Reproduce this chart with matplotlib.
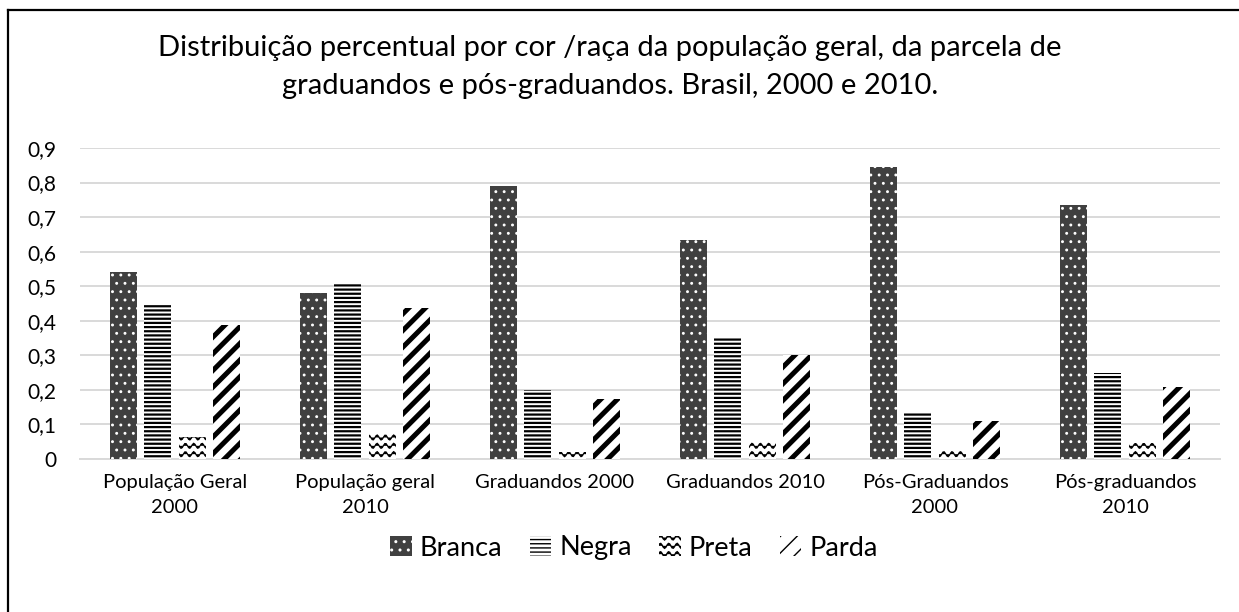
import warnings
warnings.filterwarnings("ignore")
import numpy as np
import matplotlib
matplotlib.use("Agg")
import matplotlib.pyplot as plt
import matplotlib.hatch as mhatch
from matplotlib.path import Path
from matplotlib.lines import Line2D

# ---- data ----
categories = ["População Geral\n2000", "População geral\n2010", "Graduandos 2000",
              "Graduandos 2010", "Pós-Graduandos\n2000", "Pós-graduandos\n2010"]
series_names = ["Branca", "Negra", "Preta", "Parda"]
branca = [0.54, 0.479, 0.789, 0.634, 0.846, 0.736]
negra = [0.446, 0.509, 0.199, 0.354, 0.135, 0.249]
preta = [0.064, 0.076, 0.020, 0.052, 0.024, 0.046]
parda = [0.387, 0.436, 0.174, 0.302, 0.111, 0.208]
yticks = [0, 0.1, 0.2, 0.3, 0.4, 0.5, 0.6, 0.7, 0.8, 0.9]
ytick_labels = ["0", "0,1", "0,2", "0,3", "0,4", "0,5", "0,6", "0,7", "0,8", "0,9"]
title = ("Distribuição percentual por cor /raça da população geral, da parcela de\n"
         "graduandos e pós-graduandos. Brasil, 2000 e 2010.")


# ---- custom wavy hatch ('~') ----
class WaveHatch(mhatch.HatchPatternBase):
    def __init__(self, hatch, density):
        self.num_lines = int(hatch.count('~') * density)
        self.npts = 80
        self.num_vertices = self.num_lines * self.npts

    def set_vertices_and_codes(self, vertices, codes):
        n = self.num_lines
        xs = np.linspace(0, 1, self.npts)
        amp = 0.3 / n
        for i in range(n):
            y0 = (i + 0.5) / n
            ys = y0 + amp * np.sin(2 * np.pi * n * xs)
            vertices[i * self.npts:(i + 1) * self.npts, 0] = xs
            vertices[i * self.npts:(i + 1) * self.npts, 1] = ys
            codes[i * self.npts] = Path.MOVETO
            codes[i * self.npts + 1:(i + 1) * self.npts] = Path.LINETO


mhatch._hatch_types.append(WaveHatch)

plt.rcParams['font.family'] = ['Lato', 'DejaVu Sans']

fig = plt.figure(figsize=(12.39, 6.12), dpi=100)
ax = fig.add_axes([80 / 1239, 1 - 459 / 612, 1140 / 1239, (459 - 148) / 612])

x = np.arange(len(categories))
bw = 0.142
step = 0.18
styles = [
    dict(facecolor="#404040", edgecolor="white", hatch="..", hlw=0.9),
    dict(facecolor="white", edgecolor="black", hatch="----", hlw=1.6),
    dict(facecolor="white", edgecolor="black", hatch="~~", hlw=0.9),
    dict(facecolor="white", edgecolor="black", hatch="//", hlw=3.6),
]
data = [branca, negra, preta, parda]
for k, (vals, st) in enumerate(zip(data, styles)):
    with plt.rc_context({'hatch.linewidth': st['hlw']}):
        bars = ax.bar(x + (k - 1.5) * step, vals, width=bw,
                      facecolor=st['facecolor'], edgecolor=st['edgecolor'],
                      hatch=st['hatch'], linewidth=0, label=series_names[k], zorder=3)
        for p in bars:
            if hasattr(p, 'set_hatch_linewidth'):
                p.set_hatch_linewidth(st['hlw'])

ax.set_xlim(-0.5, len(categories) - 0.5)
ax.set_ylim(0, 0.9)
ax.set_yticks(yticks)
ax.set_yticklabels(ytick_labels, fontsize=15)
ax.set_xticks(x)
ax.set_xticklabels(categories, fontsize=14.5, linespacing=1.55)
ax.tick_params(axis='x', length=0, pad=11)
ax.tick_params(axis='y', length=0, pad=17)
for s in ["top", "right", "left"]:
    ax.spines[s].set_visible(False)
ax.spines["bottom"].set_color("#d9d9d9")
ax.spines["bottom"].set_linewidth(1.4)
ax.yaxis.grid(True, color="#d9d9d9", linewidth=1.4, zorder=0)
ax.set_axisbelow(True)

fig.text(610 / 1239, 1 - 67 / 612, title, ha="center", va="center",
         fontsize=21, linespacing=1.55)

leg = fig.legend(loc="center", bbox_to_anchor=(634 / 1239, 1 - 548 / 612), ncol=4,
                 frameon=False, fontsize=19.5, handlelength=0.8, handleheight=0.8,
                 handletextpad=0.3, columnspacing=1.0)

# outer frame (left and top edges)
fig.add_artist(Line2D([8 / 1239, 8 / 1239], [0, 1 - 10 / 612], transform=fig.transFigure,
                      color="black", linewidth=1.6))
fig.add_artist(Line2D([8 / 1239, 1], [1 - 10 / 612, 1 - 10 / 612], transform=fig.transFigure,
                      color="black", linewidth=1.6))

fig.savefig("out.png", dpi=100)
